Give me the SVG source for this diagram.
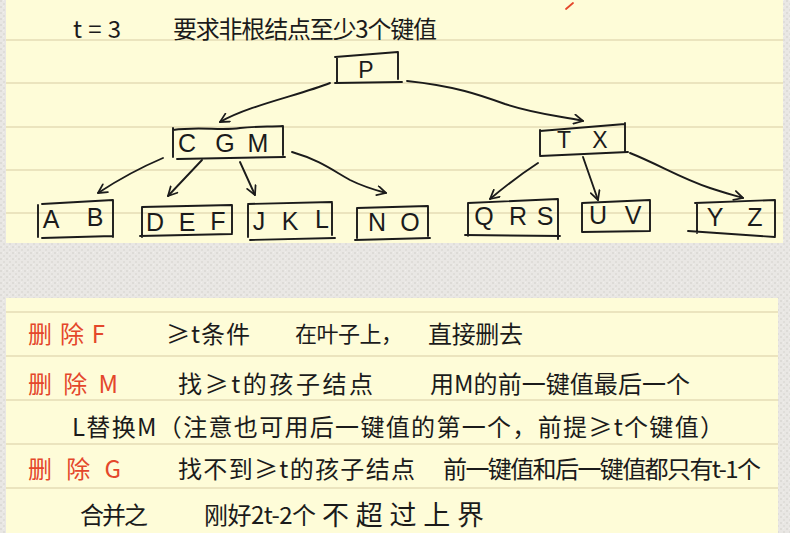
<svg xmlns="http://www.w3.org/2000/svg" width="790" height="533" viewBox="0 0 790 533">
  <defs>
    <pattern id="linen" width="6" height="6" patternUnits="userSpaceOnUse">
      <rect width="6" height="6" fill="#e9e7e4"/>
      <rect x="0" y="0" width="2" height="2" fill="#dddbd7"/>
      <rect x="3" y="3" width="2" height="2" fill="#dfddd9"/>
      <rect x="3" y="0" width="1" height="1" fill="#f1efec"/>
    </pattern>
    <marker id="vhead" viewBox="0 0 10 10" refX="9" refY="5" markerWidth="11" markerHeight="11" markerUnits="userSpaceOnUse" orient="auto">
      <path d="M1,0.8 L9,5 L1,9.2" fill="none" stroke="#1b1b1b" stroke-width="1.6" stroke-linecap="round" stroke-linejoin="round"/>
    </marker>
    <style>
      .paper { fill: #fefcd8; }
      .rule { stroke: #e4ddb6; stroke-width: 1.6; }
      .ink { fill: none; stroke: #1b1b1b; stroke-width: 1.9; stroke-linecap: round; stroke-linejoin: round; }
      .key { font-family: "Liberation Sans", Arial, sans-serif; font-size: 25px; fill: #1b1b1b; text-anchor: middle; dominant-baseline: central; }
      .key.small { font-size: 23px; }
      .note { font-family: "Noto Sans CJK SC", "Noto Sans", sans-serif; font-size: 24px; fill: #1b1b1b; dominant-baseline: central; }
      .note.tight { font-size: 22px; }
      .note.wide { font-size: 27px; }
      .red { fill: #e4472b; }
    </style>
  </defs>

  <!-- backdrop -->
  <rect width="790" height="533" fill="url(#linen)"/>

  <!-- upper sheet -->
  <rect class="paper" x="6" y="-10" width="777" height="253"/>
  <g class="rule">
    <line x1="6" y1="40" x2="783" y2="40"/>
    <line x1="6" y1="83" x2="783" y2="83"/>
    <line x1="6" y1="127" x2="783" y2="127"/>
    <line x1="6" y1="170" x2="783" y2="170"/>
    <line x1="6" y1="213" x2="783" y2="213"/>
  </g>
  <path d="M566,9 L573,3" stroke="#e4472b" stroke-width="1.8" stroke-linecap="round" fill="none"/>

  <!-- lower sheet -->
  <rect class="paper" x="6" y="298" width="772" height="245"/>
  <g class="rule">
    <line x1="6" y1="312" x2="778" y2="312"/>
    <line x1="6" y1="356" x2="778" y2="356"/>
    <line x1="6" y1="400" x2="778" y2="400"/>
    <line x1="6" y1="444" x2="778" y2="444"/>
    <line x1="6" y1="488" x2="778" y2="488"/>
  </g>

  <!-- heading -->
  <g id="heading">
    <text class="note" x="73" y="27" textLength="48">t=3</text>
    <text class="note" x="173" y="27" textLength="264">要求非根结点至少3个键值</text>
  </g>

  <!-- tree nodes -->
  <g id="node-P">
    <path class="ink" d="M335,57 L398,52 M337,58 L337,82 M398,52 L398,79 M335,83 L402,82"/>
    <text class="key small" x="366" y="70">P</text>
  </g>
  <g id="node-CGM">
    <path class="ink" d="M173,130 C200,126 220,131 240,128 C258,126 270,127 283,126 M173,128 L173,157 M283,126 L283,155 M177,159 L285,157"/>
    <text class="key" x="187" y="143">C</text>
    <text class="key" x="225" y="143">G</text>
    <text class="key" x="258" y="143">M</text>
  </g>
  <g id="node-TX">
    <path class="ink" d="M540,131 L625,124 M540,130 L540,155 M625,123 L625,152 M540,156 L628,152"/>
    <text class="key small" x="564" y="140">T</text>
    <text class="key small" x="600" y="140">X</text>
  </g>
  <g id="node-AB">
    <path class="ink" d="M42,204 L113,200 M38,205 L38,237 M113,200 L113,237 M42,238 L113,236"/>
    <text class="key" x="51" y="219">A</text>
    <text class="key" x="95" y="217">B</text>
  </g>
  <g id="node-DEF">
    <path class="ink" d="M142,207 L232,205 M142,207 L142,237 M232,205 L232,233 M140,236 L232,234"/>
    <text class="key" x="155" y="222">D</text>
    <text class="key" x="187" y="222">E</text>
    <text class="key" x="218" y="221">F</text>
  </g>
  <g id="node-JKL">
    <path class="ink" d="M248,204 L332,202 M248,205 L248,237 M332,203 L332,235 M250,240 L335,238"/>
    <text class="key" x="259" y="221">J</text>
    <text class="key" x="290" y="221">K</text>
    <text class="key" x="322" y="219">L</text>
  </g>
  <g id="node-NO">
    <path class="ink" d="M357,208 L428,206 M357,208 L357,238 M428,206 L428,236 M355,240 L430,238"/>
    <text class="key" x="377" y="222">N</text>
    <text class="key" x="410" y="222">O</text>
  </g>
  <g id="node-QRS">
    <path class="ink" d="M468,203 L558,199 M468,203 L468,236 M558,199 L558,239 M465,235 L560,236"/>
    <text class="key" x="484" y="216">Q</text>
    <text class="key" x="518" y="216">R</text>
    <text class="key" x="545" y="216">S</text>
  </g>
  <g id="node-UV">
    <path class="ink" d="M582,203 L650,200 M582,203 L582,232 M650,200 L650,231 M582,232 L650,231"/>
    <text class="key" x="598" y="215">U</text>
    <text class="key" x="633" y="215">V</text>
  </g>
  <g id="node-YZ">
    <path class="ink" d="M695,203 L775,200 M697,203 L697,233 M775,200 L775,236 M688,231 L775,237"/>
    <text class="key" x="715" y="217">Y</text>
    <text class="key" x="755" y="217">Z</text>
  </g>

  <!-- connectors -->
  <g id="connectors" class="ink" marker-end="url(#vhead)">
    <path d="M330,83 C300,95 250,105 220,122"/>
    <path d="M407,81 C455,86 480,95 505,104 C535,114 560,116 583,121"/>
    <path d="M163,158 Q130,172 98,193"/>
    <path d="M202,160 L168,196"/>
    <path d="M240,162 L255,195"/>
    <path d="M292,152 C320,160 335,172 350,180 C362,186 375,190 386,193"/>
    <path d="M538,163 Q515,178 490,199"/>
    <path d="M583,157 L598,200"/>
    <path d="M630,153 C660,165 680,178 710,188 C722,192 733,195 743,198"/>
  </g>

  <!-- notes on deletion -->
  <g id="notes">
    <text class="note red" x="28" y="332" textLength="77">删除F</text>
    <text class="note" x="166" y="332" textLength="84">≥t条件</text>
    <text class="note tight" x="295" y="332" textLength="108">在叶子上，</text>
    <text class="note" x="428" y="332" textLength="95">直接删去</text>

    <text class="note red" x="28" y="382" textLength="90">删除M</text>
    <text class="note" x="178" y="382" textLength="195">找≥t的孩子结点</text>
    <text class="note" x="430" y="382" textLength="260">用M的前一键值最后一个</text>

    <text class="note" x="72" y="425" textLength="652">L替换M（注意也可用后一键值的第一个，前提≥t个键值）</text>

    <text class="note red" x="28" y="467" textLength="93">删除G</text>
    <text class="note" x="178" y="467" textLength="237">找不到≥t的孩子结点</text>
    <text class="note" x="443" y="467" textLength="318">前一键值和后一键值都只有t-1个</text>

    <text class="note" x="80" y="513" textLength="68">合并之</text>
    <text class="note" x="204" y="513" textLength="112">刚好2t-2个</text>
    <text class="note wide" x="322" y="513" textLength="162">不超过上界</text>
  </g>
</svg>
